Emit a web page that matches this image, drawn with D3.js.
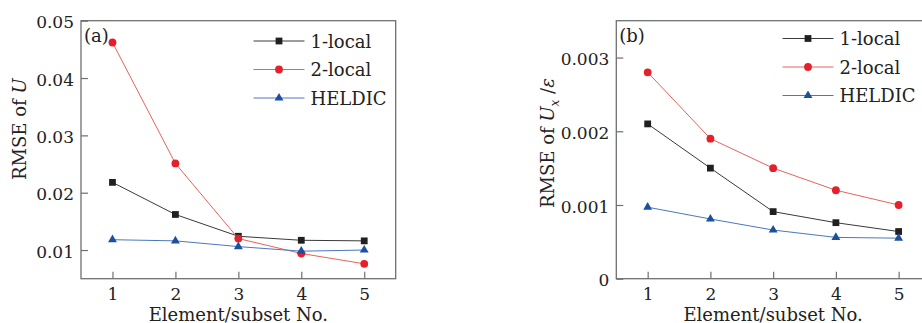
<!doctype html>
<html>
<head>
<meta charset="utf-8">
<script src="https://d3js.org/d3.v7.min.js"></script>
<style>
  body { margin: 0; background: #fff; }
  svg { display: block; font-family: "DejaVu Serif", serif; }
</style>
</head>
<body>
<svg width="922" height="323"></svg>
<script>
// data
var elements = [1, 2, 3, 4, 5];
var seriesNames = ["1-local", "2-local", "HELDIC"];

var aLocal1 = [0.0218, 0.0162, 0.0124, 0.0117, 0.0116];
var aLocal2 = [0.0462, 0.0251, 0.0120, 0.0094, 0.0076];
var aHeldic = [0.0118, 0.0116, 0.0106, 0.0098, 0.0100];
var aTicks = [0.01, 0.02, 0.03, 0.04, 0.05];

var bLocal1 = [0.0021, 0.0015, 0.00091, 0.00076, 0.00064];
var bLocal2 = [0.0028, 0.0019, 0.0015, 0.0012, 0.0010];
var bHeldic = [0.00097, 0.00081, 0.00066, 0.00056, 0.00055];
var bTicks = [0, 0.001, 0.002, 0.003];

var styles = [
  { line: "#3a3a3a", fill: "#231f20", symbol: d3.symbolSquare, size: 46 },
  { line: "#e8625c", fill: "#e5202b", symbol: d3.symbolCircle, size: 48 },
  { line: "#4a78bf", fill: "#1d4f9f", symbol: d3.symbolTriangle, size: 34 }
];

var svg = d3.select("svg");

function drawPanel(p) {
  var x = d3.scaleLinear().domain([0.5, 5.5]).range([p.left, p.right]);
  var y = d3.scaleLinear().domain(p.yDomain).range([278.7, 20.7]);

  var g = svg.append("g");

  // frame
  g.append("rect")
    .attr("x", p.left).attr("y", 20.7)
    .attr("width", p.right - p.left).attr("height", 258)
    .attr("fill", "none").attr("stroke", "#707070").attr("stroke-width", 1.3);

  // axes, ticks pointing inward
  var xa = g.append("g").attr("transform", "translate(0,278.7)")
    .call(d3.axisBottom(x).tickValues(elements).tickSize(-7).tickPadding(9)
      .tickFormat(d3.format("d")));
  var ya = g.append("g").attr("transform", "translate(" + p.left + ",0)")
    .call(d3.axisLeft(y).tickValues(p.ticks).tickSize(-7).tickPadding(7)
      .tickFormat(function(d) { return d === 0 ? "0" : d3.format("." + p.dec + "f")(d); }));
  [xa, ya].forEach(function(a) {
    a.select(".domain").remove();
    a.selectAll("line").attr("stroke", "#707070").attr("stroke-width", 1.2);
    a.selectAll("text").attr("fill", "#222").style("font-family", "DejaVu Serif")
      .style("font-size", "17px");
  });
  ya.selectAll("text").attr("dy", "0.42em");

  // series
  var line = d3.line().x(function(d, i) { return x(elements[i]); }).y(function(d) { return y(d); });
  p.series.forEach(function(vals, k) {
    var s = styles[k];
    g.append("path").attr("d", line(vals)).attr("fill", "none")
      .attr("stroke", s.line).attr("stroke-width", 1);
    g.selectAll(null).data(vals).enter().append("path")
      .attr("transform", function(d, i) { return "translate(" + x(elements[i]) + "," + y(d) + ")"; })
      .attr("d", d3.symbol().type(s.symbol).size(s.size))
      .attr("fill", s.fill);
  });

  // legend
  seriesNames.forEach(function(name, k) {
    var s = styles[k];
    var ly = p.legY + k * 28.5;
    g.append("line").attr("x1", p.legX).attr("x2", p.legX + 51)
      .attr("y1", ly).attr("y2", ly).attr("stroke", s.line).attr("stroke-width", 1);
    g.append("path").attr("transform", "translate(" + (p.legX + 25.5) + "," + ly + ")")
      .attr("d", d3.symbol().type(s.symbol).size(s.size)).attr("fill", s.fill);
    g.append("text").attr("x", p.legX + 57).attr("y", ly + 6.5)
      .attr("fill", "#222").style("font-size", "18px").text(name);
  });

  // panel tag
  g.append("text").attr("x", p.left + 3).attr("y", 41.5)
    .attr("fill", "#222").style("font-size", "18px").text(p.tag);

  // x title
  g.append("text").attr("x", x(3)).attr("y", 320.5).attr("text-anchor", "middle")
    .attr("fill", "#222").style("font-size", "18px").text("Element/subset No.");

  // y title
  var yt = g.append("text")
    .attr("transform", "translate(" + p.titleX + "," + p.titleY + ") rotate(-90)")
    .attr("fill", "#222").style("font-size", "18px");
  p.title(yt);
}

drawPanel({
  left: 81, right: 395.7, yDomain: [0.005, 0.05], ticks: aTicks, dec: 2,
  series: [aLocal1, aLocal2, aHeldic], legX: 253.5, legY: 41, tag: "(a)",
  titleX: 26, titleY: 180,
  title: function(t) {
    t.append("tspan").text("RMSE of ");
    t.append("tspan").style("font-style", "italic").text("U");
  }
});

drawPanel({
  left: 616.3, right: 930, yDomain: [0, 0.0035], ticks: bTicks, dec: 3,
  series: [bLocal1, bLocal2, bHeldic], legX: 782.5, legY: 38.5, tag: "(b)",
  titleX: 554, titleY: 208,
  title: function(t) {
    t.append("tspan").text("RMSE of ");
    t.append("tspan").style("font-style", "italic").text("U");
    t.append("tspan").attr("dy", 5).style("font-style", "italic").style("font-size", "12px").text("x");
    t.append("tspan").attr("dy", -5).text(" /");
    t.append("tspan").style("font-style", "italic").text("\u03b5");
  }
});
</script>
</body>
</html>
